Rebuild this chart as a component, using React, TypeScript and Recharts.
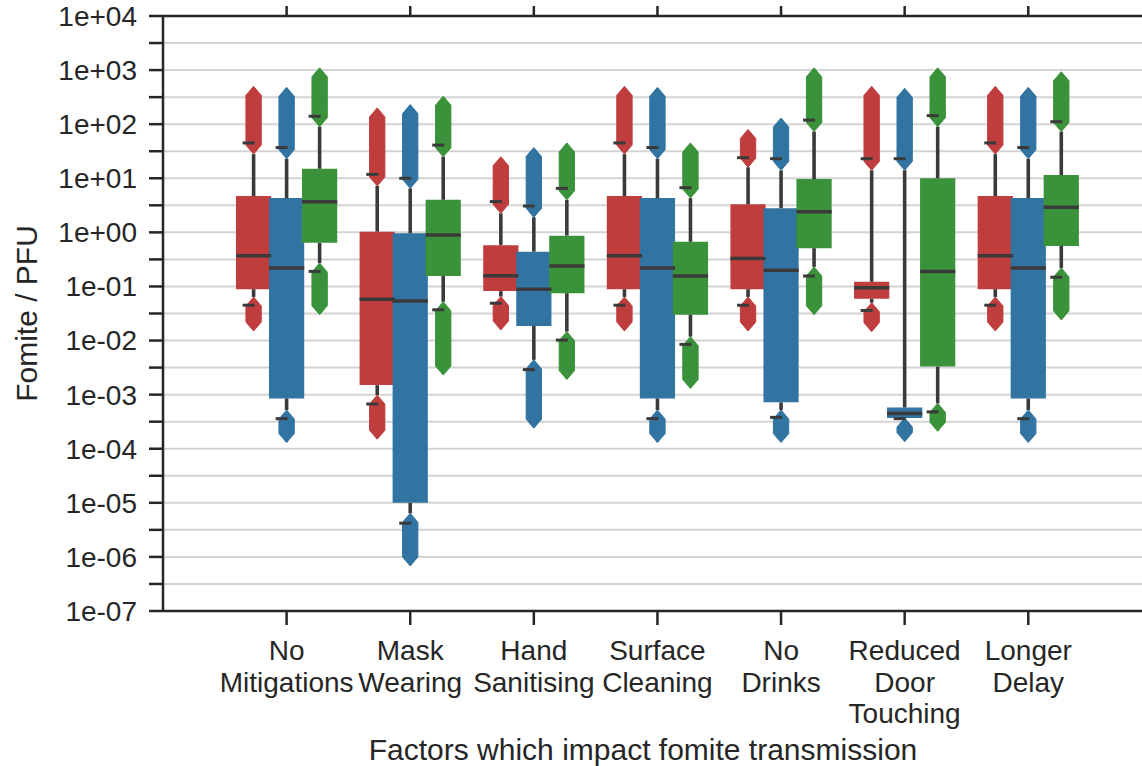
import {
  CartesianGrid,
  ComposedChart,
  ReferenceArea,
  ReferenceLine,
  Scatter,
  XAxis,
  YAxis,
} from 'recharts';

const categories = [
  'No\nMitigations',
  'Mask\nWearing',
  'Hand\nSanitising',
  'Surface\nCleaning',
  'No\nDrinks',
  'Reduced\nDoor\nTouching',
  'Longer\nDelay',
];

// half-decade ticks, only whole decades get a label
const yTickExponents = [-7, -6.5, -6, -5.5, -5, -4.5, -4, -3.5, -3, -2.5, -2, -1.5, -1, -0.5, 0, 0.5, 1, 1.5, 2, 2.5, 3, 3.5, 4];

// red series
const redQ1 = [0.089, 0.0015, 0.082, 0.089, 0.089, 0.059, 0.089];
const redMedian = [0.37, 0.058, 0.158, 0.37, 0.33, 0.095, 0.37];
const redQ3 = [4.7, 1.03, 0.58, 4.7, 3.3, 0.122, 4.7];
const redWhiskerLo = [0.064, 0.00098, 0.065, 0.064, 0.064, 0.05, 0.064];
const redWhiskerHi = [28, 7.2, 2.25, 28, 16, 14, 28];
const redCapLo = [0.045, 0.00067, 0.049, 0.045, 0.045, 0.036, 0.045];
const redCapHi = [45, 11.8, 3.7, 45, 24, 23, 45];
const redOutLo = [0.015, 0.00015, 0.0157, 0.015, 0.015, 0.0146, 0.015];
const redOutHi = [500, 200, 25, 500, 80, 500, 500];

// blue series
const blueQ1 = [0.00085, 0.00001, 0.0186, 0.00085, 0.00072, 0.00037, 0.00085];
const blueMedian = [0.22, 0.054, 0.089, 0.22, 0.2, 0.00045, 0.22];
const blueQ3 = [4.3, 0.96, 0.44, 4.3, 2.8, 0.00058, 4.3];
const blueWhiskerLo = [0.00052, 6.4e-6, 0.0044, 0.00052, 0.00052, 0.00037, 0.00052];
const blueWhiskerHi = [23, 6.5, 1.9, 23, 14, 14, 23];
const blueCapLo = [0.00036, 4.2e-6, 0.0029, 0.00036, 0.00038, 0.00036, 0.00036];
const blueCapHi = [37, 10, 3.07, 37, 23, 23, 37];
const blueOutLo = [0.00013, 6.8e-7, 0.00024, 0.00013, 0.00013, 0.000135, 0.00013];
const blueOutHi = [480, 230, 37, 480, 130, 460, 480];

// green series
const greenQ1 = [0.64, 0.156, 0.075, 0.03, 0.51, 0.0033, 0.56];
const greenMedian = [3.7, 0.89, 0.24, 0.156, 2.4, 0.19, 2.9];
const greenQ3 = [15, 4.0, 0.87, 0.67, 9.7, 10, 11.5];
const greenWhiskerLo = [0.27, 0.052, 0.0146, 0.0118, 0.23, 0.00069, 0.22];
const greenWhiskerHi = [90, 25, 4.0, 4.3, 73, 90, 73];
const greenCapLo = [0.19, 0.037, 0.0102, 0.0085, 0.156, 0.00048, 0.148];
const greenCapHi = [140, 41, 6.5, 6.7, 119, 144, 111];
const greenOutLo = [0.03, 0.0023, 0.0019, 0.0013, 0.03, 0.00021, 0.024];
const greenOutHi = [1100, 330, 45, 45, 1100, 1100, 930];

const FONT = "'Liberation Sans', Arial, sans-serif";
const INK = '#262626';
const LINE = '#3a3a3a';
const BOX_HALF = 0.1425;
const WHISKER_HALF = 0.0145;
const BLOB_HALF = 0.062;

const hues = [
  { color: '#c03d3e', offset: -0.267, q1: redQ1, med: redMedian, q3: redQ3, wLo: redWhiskerLo, wHi: redWhiskerHi, capLo: redCapLo, capHi: redCapHi, outLo: redOutLo, outHi: redOutHi },
  { color: '#3274a1', offset: 0, q1: blueQ1, med: blueMedian, q3: blueQ3, wLo: blueWhiskerLo, wHi: blueWhiskerHi, capLo: blueCapLo, capHi: blueCapHi, outLo: blueOutLo, outHi: blueOutHi },
  { color: '#3a923a', offset: 0.267, q1: greenQ1, med: greenMedian, q3: greenQ3, wLo: greenWhiskerLo, wHi: greenWhiskerHi, capLo: greenCapLo, capHi: greenCapHi, outLo: greenOutLo, outHi: greenOutHi },
];

const boxes = categories.flatMap((_, i) =>
  hues.map((h) => ({
    x: i + h.offset,
    color: h.color,
    q1: h.q1[i],
    med: h.med[i],
    q3: h.q3[i],
    wLo: h.wLo[i],
    wHi: h.wHi[i],
    capLo: h.capLo[i],
    capHi: h.capHi[i],
    outLo: h.outLo[i],
    outHi: h.outHi[i],
  })),
);

const capPoints = boxes.flatMap((b) => [
  { x: b.x, y: b.capLo },
  { x: b.x, y: b.capHi },
]);

const yTicks = yTickExponents.map((e) => Math.pow(10, e));

function formatY(v: number) {
  const e = Math.round(Math.log10(v) * 2) / 2;
  if (!Number.isInteger(e)) return '';
  const sign = e < 0 ? '-' : '+';
  return `1e${sign}${String(Math.abs(e)).padStart(2, '0')}`;
}

function CategoryTick(props: any) {
  const { x, y, payload } = props;
  const label = categories[payload.value];
  if (!label) return null;
  return (
    <text x={x} y={y + 33} textAnchor="middle" fill={INK} fontSize={28} fontFamily={FONT}>
      {label.split('\n').map((line, k) => (
        <tspan key={k} x={x} dy={k === 0 ? 0 : 31.5}>
          {line}
        </tspan>
      ))}
    </text>
  );
}

// outliers: a dense column of diamond markers, drawn as one pointed shape
const blobShape = (color: string) => (props: any) => {
  const { x, y, width, height } = props;
  const cx = x + width / 2;
  const tip = Math.min(9, height / 2);
  const pts = [
    [cx, y],
    [x + width, y + tip],
    [x + width, y + height - tip],
    [cx, y + height],
    [x, y + height - tip],
    [x, y + tip],
  ]
    .map((p) => p.join(','))
    .join(' ');
  return <polygon points={pts} fill={color} stroke={color} strokeWidth={1} strokeLinejoin="round" />;
};

function CapShape(props: any) {
  const { cx, cy } = props;
  return <line x1={cx - 11} x2={cx + 1} y1={cy} y2={cy} stroke={LINE} strokeWidth={3} />;
}

export default function App() {
  return (
    <div style={{ position: 'absolute', left: 0, top: 0, background: '#fff' }}>
      <ComposedChart width={1142} height={766} margin={{ top: 0, right: 0, bottom: 0, left: 0 }}>
        <CartesianGrid xAxisId="bottom" horizontal vertical={false} stroke="#d4d4d4" strokeWidth={2} />
        <XAxis
          xAxisId="bottom"
          type="number"
          dataKey="x"
          domain={[-1, 6.92]}
          allowDataOverflow
          ticks={categories.map((_, i) => i)}
          interval={0}
          height={155}
          tickSize={14}
          tick={<CategoryTick />}
          axisLine={{ stroke: INK, strokeWidth: 2.5 }}
          tickLine={{ stroke: INK, strokeWidth: 2.5 }}
          label={() => (
            <text x={643} y={760} textAnchor="middle" fill={INK} fontSize={30} fontFamily={FONT}>
              Factors which impact fomite transmission
            </text>
          )}
        />
        <XAxis
          xAxisId="top"
          orientation="top"
          type="number"
          dataKey="x"
          domain={[-1, 6.92]}
          allowDataOverflow
          ticks={categories.map((_, i) => i)}
          interval={0}
          height={16}
          tickSize={10}
          tickFormatter={() => ''}
          axisLine={{ stroke: INK, strokeWidth: 2.5 }}
          tickLine={{ stroke: INK, strokeWidth: 2.5 }}
        />
        <YAxis
          type="number"
          dataKey="y"
          scale="log"
          domain={[1e-7, 1e4]}
          allowDataOverflow
          ticks={yTicks}
          interval={0}
          width={163}
          tickSize={14}
          tickMargin={12}
          tickFormatter={formatY}
          tick={{ fill: INK, fontSize: 28, fontFamily: FONT }}
          axisLine={{ stroke: INK, strokeWidth: 2.5 }}
          tickLine={{ stroke: INK, strokeWidth: 2.5 }}
          label={() => (
            <text
              x={37}
              y={313.5}
              transform="rotate(-90, 37, 313.5)"
              textAnchor="middle"
              fill={INK}
              fontSize={30}
              fontFamily={FONT}
            >
              Fomite / PFU
            </text>
          )}
        />

        {boxes.map((b, k) => (
          <ReferenceArea
            key={`box-${k}`}
            xAxisId="bottom"
            x1={b.x - BOX_HALF}
            x2={b.x + BOX_HALF}
            y1={b.q1}
            y2={b.q3}
            fill={b.color}
            fillOpacity={1}
            stroke="none"
          />
        ))}
        {boxes.map((b, k) => (
          <ReferenceArea
            key={`wh-${k}`}
            xAxisId="bottom"
            x1={b.x - WHISKER_HALF}
            x2={b.x + WHISKER_HALF}
            y1={b.q3}
            y2={b.wHi}
            fill={LINE}
            fillOpacity={1}
            stroke="none"
          />
        ))}
        {boxes.map((b, k) => (
          <ReferenceArea
            key={`wl-${k}`}
            xAxisId="bottom"
            x1={b.x - WHISKER_HALF}
            x2={b.x + WHISKER_HALF}
            y1={b.wLo}
            y2={b.q1}
            fill={LINE}
            fillOpacity={1}
            stroke="none"
          />
        ))}
        {boxes.map((b, k) => (
          <ReferenceArea
            key={`oh-${k}`}
            xAxisId="bottom"
            x1={b.x - BLOB_HALF}
            x2={b.x + BLOB_HALF}
            y1={b.wHi}
            y2={b.outHi}
            shape={blobShape(b.color)}
          />
        ))}
        {boxes.map((b, k) => (
          <ReferenceArea
            key={`ol-${k}`}
            xAxisId="bottom"
            x1={b.x - BLOB_HALF}
            x2={b.x + BLOB_HALF}
            y1={b.outLo}
            y2={b.wLo}
            shape={blobShape(b.color)}
          />
        ))}
        {boxes.map((b, k) => (
          <ReferenceLine
            key={`med-${k}`}
            xAxisId="bottom"
            segment={[
              { x: b.x - BOX_HALF, y: b.med },
              { x: b.x + BOX_HALF, y: b.med },
            ]}
            stroke={LINE}
            strokeWidth={3.5}
          />
        ))}
        <Scatter
          xAxisId="bottom"
          data={capPoints}
          dataKey="y"
          shape={CapShape}
          isAnimationActive={false}
        />
      </ComposedChart>
    </div>
  );
}
